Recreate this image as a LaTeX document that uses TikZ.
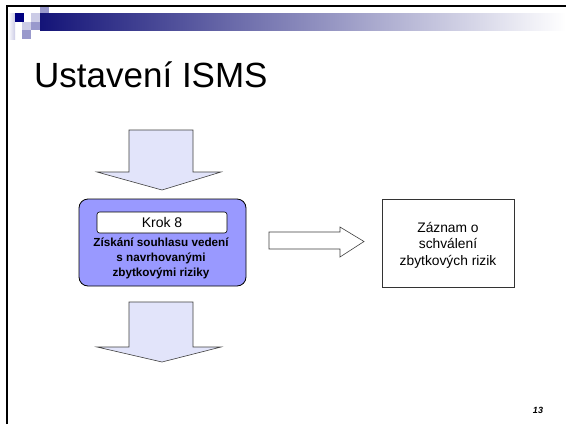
\documentclass[tikz,border=0pt]{standalone}
\usepackage{fontspec}
\setmainfont{Liberation Sans}
\begin{document}
\begin{tikzpicture}[x=1pt,y=-1pt,
  blockarrow/.style={draw=black!75, line width=0.6pt, fill=arrowfill},
  stepbox/.style={draw=black, line width=0.8pt, fill=stepblue, rounded corners=9pt},
  labelbox/.style={draw=black, line width=0.6pt, fill=white, rounded corners=2.5pt},
  recordbox/.style={draw=black!80, line width=0.6pt, fill=white},
  txt/.style={inner sep=0pt, align=center},
]
\definecolor{navy}{RGB}{20,20,120}
\definecolor{sqdark}{RGB}{0,0,128}
\definecolor{sqmid}{RGB}{153,153,204}
\definecolor{sqlight}{RGB}{204,204,230}
\definecolor{arrowfill}{RGB}{226,228,250}
\definecolor{stepblue}{RGB}{153,153,255}

\useasboundingbox (0,0) rectangle (566,424);
\fill[white] (0,0) rectangle (566,424);

% header decoration: gradient bar and squares
\shade[left color=navy, right color=white] (40,13) rectangle (566,30);
\shade[left color=white, right color=sqlight] (8,13) rectangle (15,39);
\fill[sqdark] (15,13) rectangle (23.5,21.5);
\fill[sqlight] (31,13) rectangle (40,21.5);
\fill[sqmid] (40,7) rectangle (49,13);
\fill[sqlight] (22,21.5) rectangle (31,30);
\fill[sqmid] (31,21.5) rectangle (40,30);
\fill[sqmid] (22,30) rectangle (31,39);

% slide frame
\draw[line width=2pt] (7,424) -- (7,6) -- (566,6);

% title
\node[anchor=base west, inner sep=0pt, font=\fontsize{35}{35}\selectfont] (title) at (34,87) {Ustavení ISMS};

% incoming block arrow
\draw[blockarrow] (129,130) -- (193,130) -- (193,172) -- (221,172) -- (162,190)
  -- (97,172) -- (129,172) -- cycle;

% step box
\node[stepbox, minimum width=167pt, minimum height=87pt] (step) at (162.5,242.5) {};
\node[labelbox, minimum width=130pt, minimum height=21pt, inner sep=0pt,
  font=\fontsize{14}{14}\selectfont] (krok) at (162,222.5) {Krok 8};
\node[txt, font=\bfseries\fontsize{11.7}{15}\selectfont] (desc) at (161,258.5)
  {Získání souhlasu vedení\\s navrhovanými\\zbytkovými riziky};

% outgoing block arrow
\draw[blockarrow] (129,302) -- (193,302) -- (193,347) -- (221,347) -- (162,362)
  -- (97,347) -- (129,347) -- cycle;

% record box
\node[recordbox, minimum width=132pt, minimum height=88pt] (record) at (448,243) {};
\node[txt, font=\fontsize{13.8}{16.5}\selectfont] (rectext) at (448,245)
  {Záznam o\\schválení\\zbytkových rizik};

% arrow from step to record
\draw[blockarrow, fill=white] (269,232) -- (340,232) -- (340,227) -- (364,241.5)
  -- (340,257) -- (340,249) -- (269,249) -- cycle;

% slide number
\node[inner sep=0pt, font=\bfseries\itshape\fontsize{9}{9}\selectfont] (num) at (538,410) {13};
\end{tikzpicture}
\end{document}
